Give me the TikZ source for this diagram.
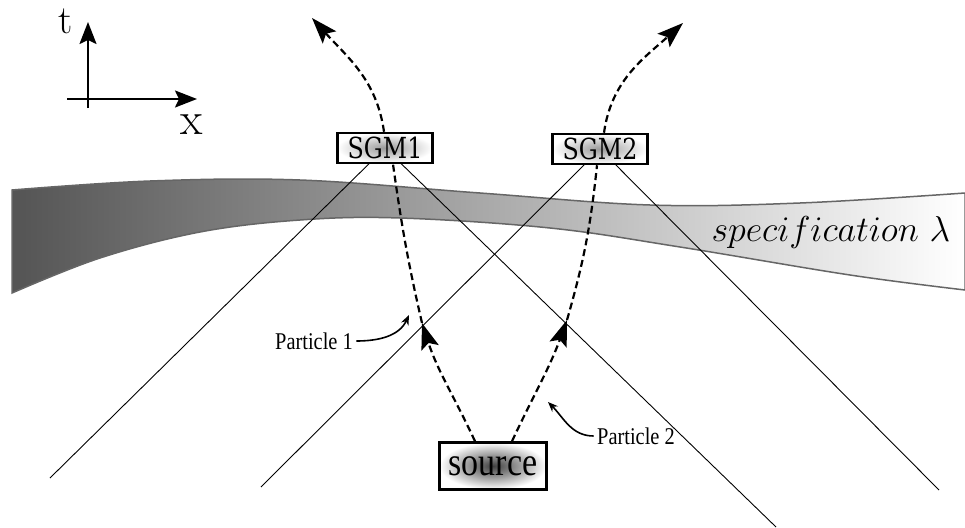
\RequirePackage{fix-cm}
\documentclass[tikz,border=0pt]{standalone}
\usepackage{fontspec}
\usetikzlibrary{arrows.meta}
\newfontfamily\sgmfont[FakeStretch=0.82]{DejaVu Serif}
\newfontfamily\partfont[FakeStretch=0.85]{Liberation Serif}
\begin{document}
\begin{tikzpicture}[x=1pt, y=-1pt,
    box/.style = {draw, line width=2.5pt, inner sep=0pt},
    sgm/.style = {box, minimum width=95pt, minimum height=30pt, inner color=black!40, outer color=white, font=\sgmfont\fontsize{29}{29}\selectfont},
    particle/.style = {line width=2.2pt, dash pattern=on 7pt off 4pt},
    head/.style = {-{Stealth[length=26pt, width=18pt, inset=5pt]}},
    axis/.style = {line width=2pt, -{Stealth[length=22pt, width=17pt, inset=4pt]}},
    cone/.style = {line width=0.9pt},
    lbl/.style = {font=\partfont\fontsize{24}{24}\selectfont},
    lblarrow/.style = {line width=1.6pt, -{Stealth[length=10pt, width=8pt]}}]
    \useasboundingbox (0,0) rectangle (965,527);
    \shadedraw[draw=black!60, line width=1.5pt, left color=black!67, right color=white]
        plot[smooth, tension=0.6] coordinates {(12,190) (150,181) (300,180) (480,193) (650,205) (800,203) (965,193)}
        -- plot[smooth, tension=0.6] coordinates {(965,290) (850,275) (680,247) (550,228) (400,218) (300,220) (200,232) (100,258) (12,293)}
        -- cycle;
    \node at (831,232) {\fontsize{36}{36}\selectfont $specification\ \lambda$};
    \coordinate (c1) at (385,148);
    \coordinate (c2) at (600,149);
    \coordinate (e1) at (50,478);
    \coordinate (e2) at (776,527);
    \coordinate (e3) at (261,487);
    \coordinate (e4) at (939,490);
    \draw[cone] (c1) -- (e1);
    \draw[cone] (c1) -- (e2);
    \draw[cone] (c2) -- (e3);
    \draw[cone] (c2) -- (e4);
    \node[sgm] (sgm1) at (c1) {SGM1};
    \node[sgm] (sgm2) at (c2) {SGM2};
    \node[box, minimum width=107pt, minimum height=47pt, inner color=black!75, outer color=white, font=\partfont\fontsize{40}{40}\selectfont] (src) at (493,466) {source};
    \coordinate (m1) at (422,323);
    \coordinate (m2) at (567,320);
    \coordinate (t1) at (312,18);
    \coordinate (t2) at (683,23);
    \draw[particle, head] ([xshift=-18pt]src.north) to[out=115, in=-72] (m1);
    \draw[particle] (m1) to[out=103, in=-82] ([xshift=8pt]sgm1.south);
    \draw[particle, head] ([xshift=-1pt]sgm1.north) to[out=98, in=-48] (t1);
    \draw[particle, head] ([xshift=19pt]src.north) to[out=65, in=-110] (m2);
    \draw[particle] (m2) to[out=74, in=-96] ([xshift=-3pt]sgm2.south);
    \draw[particle, head] ([xshift=4pt]sgm2.north) to[out=82, in=-138] (t2);
    \node[lbl] (lab1) at (314,341) {Particle 1};
    \node[lbl] (lab2) at (636,436) {Particle 2};
    \coordinate (a1) at (409,315);
    \coordinate (a2) at (548,402);
    \draw[lblarrow] (lab1.east) to[out=0, in=-115] (a1);
    \draw[lblarrow] (lab2.west) to[out=180, in=-45] (a2);
    \coordinate (tb) at (88,108);
    \coordinate (tt) at (88,22);
    \coordinate (xl) at (67,99);
    \coordinate (xr) at (197,99);
    \draw[axis] (tb) -- (tt);
    \draw[axis] (xl) -- (xr);
    \node (tlab) at (66,21) {\fontsize{40}{40}\selectfont t};
    \node (xlab) at (192,125) {\fontsize{46}{46}\selectfont x};
\end{tikzpicture}
\end{document}
